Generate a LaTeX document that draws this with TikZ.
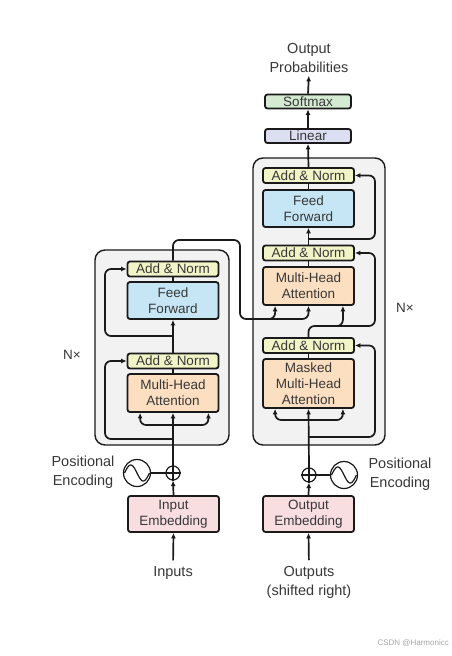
\documentclass[tikz,border=0pt]{standalone}
\usepackage{fontspec}
\setmainfont{Liberation Sans}
\usetikzlibrary{arrows.meta}
\definecolor{lc}{HTML}{1A1A1A}
\definecolor{txt}{HTML}{383838}
\definecolor{blk}{HTML}{F2F2F2}
\definecolor{anC}{HTML}{F1F4C6}
\definecolor{ffC}{HTML}{C6E6F5}
\definecolor{mhaC}{HTML}{FBDFC0}
\definecolor{embC}{HTML}{F8DEE1}
\definecolor{smC}{HTML}{D4EAD3}
\definecolor{linC}{HTML}{DCDEF2}
\begin{document}
\begin{tikzpicture}[x=1pt,y=-1pt,
  every node/.style={text=txt},
  box/.style={draw=lc, line width=1.8pt, rounded corners=2.5pt, minimum width=91pt,
    inner sep=0pt, align=center, font=\fontsize{13.5}{16}\selectfont},
  an/.style={box, fill=anC, minimum height=15pt},
  ffbox/.style={box, fill=ffC, minimum height=37pt},
  mha/.style={box, fill=mhaC, minimum height=38pt},
  emb/.style={box, fill=embC, minimum height=36pt},
  smbox/.style={box, fill=smC, minimum height=14pt, minimum width=86pt},
  linbox/.style={box, fill=linC, minimum height=14pt, minimum width=86pt},
  blockbox/.style={draw=lc, line width=1.4pt, fill=blk, rounded corners=10pt, inner sep=0pt},
  lab/.style={inner sep=0pt, align=center, font=\fontsize{14.5}{19}\selectfont},
  nx/.style={inner sep=0pt, font=\fontsize{13.5}{15}\selectfont},
  conn/.style={draw=lc, line width=1.7pt},
  arr/.style={conn, -{Latex[length=5.5pt,width=5pt]}},
  rc/.style={rounded corners=6pt},
  plusnode/.style={circle, draw=lc, line width=1.2pt, minimum size=14pt, inner sep=0pt, fill=white},
  penode/.style={circle, draw=lc, line width=1.2pt, minimum size=27pt, inner sep=0pt, fill=white},
  wave/.style={draw=lc, line width=1.2pt}
]
\useasboundingbox (0,0) rectangle (451,656);
\fill[white] (0,0) rectangle (451,656);

% outer blocks
\node[blockbox, minimum width=134pt, minimum height=195pt] (encBlk) at (162,347.5) {};
\node[blockbox, minimum width=132pt, minimum height=287pt] (decBlk) at (319,301.5) {};

% encoder
\node[an] (encAN2) at (173,269) {Add \& Norm};
\node[ffbox] (encFF) at (173,300.5) {Feed\\Forward};
\node[an] (encAN1) at (173,361) {Add \& Norm};
\node[mha] (encMHA) at (173,393) {Multi-Head\\Attention};
\node[emb] (encEmb) at (173.5,514) {Input\\Embedding};
\node[plusnode] (encAdd) at (173,473) {};
\node[penode] (encPE) at (137,473) {};
\node[lab] (encPEt) at (83,472.5) {Positional\\Encoding};
\node[lab] (encIn) at (173,573) {Inputs};
\node[nx] (encNx) at (72,355) {N×};

% decoder
\node[an] (decAN3) at (308.5,175.5) {Add \& Norm};
\node[ffbox] (decFF) at (308.5,208.5) {Feed\\Forward};
\node[an] (decAN2) at (308.5,253) {Add \& Norm};
\node[mha] (decMHA2) at (308.5,286) {Multi-Head\\Attention};
\node[an] (decAN1) at (308.5,345.5) {Add \& Norm};
\node[mha, minimum height=49pt] (decMHA1) at (308.5,383.5) {Masked\\Multi-Head\\Attention};
\node[emb] (decEmb) at (308.5,514) {Output\\Embedding};
\node[plusnode] (decAdd) at (309,475) {};
\node[penode] (decPE) at (344,475) {};
\node[lab] (decPEt) at (400,474) {Positional\\Encoding};
\node[lab] (outs) at (309,582.5) {Outputs\\(shifted right)};
\node[nx] (decNx) at (405,308) {N×};

\node[linbox] (linear) at (308,136) {Linear};
\node[smbox] (softmax) at (308,101.5) {Softmax};
\node[lab] (outprob) at (309,58) {Output\\Probabilities};

% plus signs and waves
\foreach \p in {encAdd,decAdd}{
  \draw[lc, line width=1.1pt] (\p.north) -- (\p.south);
  \draw[lc, line width=1.1pt] (\p.west) -- (\p.east);
}
\foreach \p in {encPE,decPE}{
  \draw[wave, shift={(\p.center)}] plot[domain=-12.5:12.5, samples=40, smooth] (\x, {8*sin(\x*14.4)});
}
\draw[conn, line width=1.2pt] (encPE.east) -- (encAdd.west);
\draw[conn, line width=1.2pt] (decAdd.east) -- (decPE.west);

% encoder connectors
\coordinate (encFork) at (173,425);
\coordinate (encRes1) at (173,439);
\coordinate (encRes2) at (173,336);
\draw[arr] (encAdd.north) -- (encMHA.south);
\draw[arr, rc] (encFork) -| ([xshift=13.5pt]encMHA.south west);
\draw[arr, rc] (encFork) -| ([xshift=-11pt]encMHA.south east);
\draw[arr, rc] (encRes1) -- (105,439) |- (encAN1.west);
\draw[conn] (encMHA.north) -- (encAN1.south);
\draw[arr] (encAN1.north) -- (encFF.south);
\draw[arr, rc] (encRes2) -- (105,336) |- (encAN2.west);
\draw[conn] (encFF.north) -- (encAN2.south);
\draw[arr] (encEmb.north) -- (encAdd.south);
\draw[arr, shorten <=6pt] (encIn.north) -- (encEmb.south);

% encoder output into decoder
\draw[arr, rc] (encAN2.north) |- (240,240) -- (240,319) -| (decMHA2.south);
\draw[arr, rc] (255,319) -| ([xshift=13pt]decMHA2.south west);

% decoder connectors
\coordinate (decFork) at (309,420);
\coordinate (decRes1) at (309,437);
\coordinate (decRes3) at (309,239);
\draw[arr] (decAdd.north) -- (decMHA1.south);
\draw[arr, rc] (decFork) -| ([xshift=13pt]decMHA1.south west);
\draw[arr, rc] (decFork) -| ([xshift=-12pt]decMHA1.south east);
\draw[arr, rc] (decRes1) -- (375,437) |- (decAN1.east);
\draw[conn] (decMHA1.north) -- (decAN1.south);
\draw[arr, rc] (decAN1.north) |- (375,326) |- (decAN2.east);
\draw[arr, rc] (325,326) -| ([xshift=-12pt]decMHA2.south east);
\draw[conn] (decMHA2.north) -- (decAN2.south);
\draw[arr] (decAN2.north) -- (decFF.south);
\draw[arr, rc] (decRes3) -- (375,239) |- (decAN3.east);
\draw[conn] (decFF.north) -- (decAN3.south);
\draw[arr] (decAN3.north) -- (linear.south);
\draw[arr] (linear.north) -- (softmax.south);
\draw[arr, shorten >=3pt] (softmax.north) -- (outprob.south);
\draw[arr] (decEmb.north) -- (decAdd.south);
\draw[arr, shorten <=6pt] (outs.north) -- (decEmb.south);

% watermark
\node[anchor=east, inner sep=0pt, text=black!35, font=\fontsize{8}{10}\selectfont] (wm) at (449,643) {CSDN @Harmonicc};
\end{tikzpicture}
\end{document}
